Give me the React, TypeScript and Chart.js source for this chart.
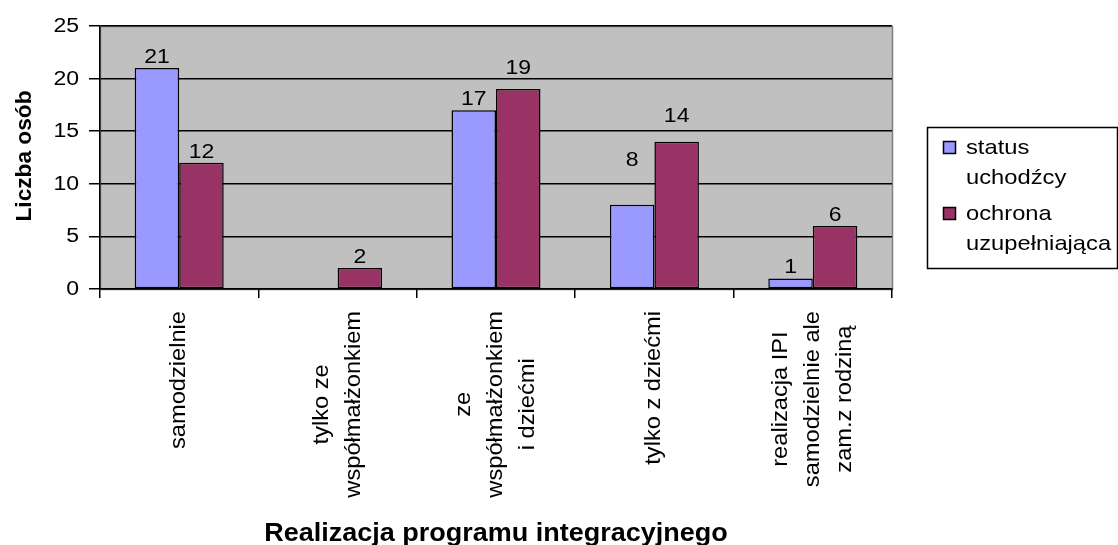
import React, { useEffect, useRef } from "react";
import { Chart, registerables } from "chart.js";

Chart.register(...registerables);

// ---- data ----
const categories: string[][] = [
  ["samodzielnie"],
  ["tylko ze", "współmałżonkiem"],
  ["ze", "współmałżonkiem", "i dziećmi"],
  ["tylko z dziećmi"],
  ["realizacja IPI", "samodzielnie ale", "zam.z rodziną"],
];
const seriesNames: string[][] = [
  ["status", "uchodźcy"],
  ["ochrona", "uzupełniająca"],
];
const statusUchodzcy: (number | null)[] = [21, null, 17, 8, 1];
const ochronaUzupelniajaca: (number | null)[] = [12, 2, 19, 14, 6];
const yTicks = [0, 5, 10, 15, 20, 25];
const yAxisTitle = "Liczba osób";
const xAxisTitle = "Realizacja programu integracyjnego";

// label nudges (extra lift above bar, px) mimicking the reference's label placement
const statusLabelLift = [0, 0, 0, 34, 0];
const ochronaLabelLift = [0, 0, 10, 15, 0];

const FAMILY = '"Liberation Sans", Arial, sans-serif';
const BLUE = "#9999FF";
const MAROON = "#993366";

function drawText(
  ctx: CanvasRenderingContext2D,
  text: string,
  x: number,
  y: number,
  font: string,
  sx: number,
  align: CanvasTextAlign,
  baseline: CanvasTextBaseline,
  rot = 0
) {
  ctx.save();
  ctx.translate(x, y);
  if (rot) ctx.rotate(rot);
  ctx.scale(sx, 1);
  ctx.font = font;
  ctx.textAlign = align;
  ctx.textBaseline = baseline;
  ctx.fillStyle = "#000";
  ctx.fillText(text, 0, 0);
  ctx.restore();
}

const bgPlugin = {
  id: "plotBg",
  beforeDraw(chart: any) {
    const { ctx, chartArea: a } = chart;
    ctx.save();
    ctx.fillStyle = "#fff";
    ctx.fillRect(0, 0, chart.width, chart.height);
    ctx.fillStyle = "#C0C0C0";
    ctx.fillRect(a.left, a.top, a.right - a.left, a.bottom - a.top);
    ctx.strokeStyle = "#808080";
    ctx.lineWidth = 1.5;
    ctx.strokeRect(Math.round(a.left) + 0.5, Math.round(a.top) + 0.5, Math.round(a.right - a.left), Math.round(a.bottom - a.top));
    ctx.restore();
  },
};

const textPlugin = {
  id: "texts",
  afterDraw(chart: any) {
    const ctx: CanvasRenderingContext2D = chart.ctx;
    const xs = chart.scales.x;
    const ys = chart.scales.y;
    const a = chart.chartArea;

    // y tick labels
    const tickFont = `20px ${FAMILY}`;
    const tickSx = 1.15;
    yTicks.forEach((v) => {
      drawText(ctx, String(v), 79, ys.getPixelForValue(v) + 0.5, tickFont, tickSx, "right", "middle");
    });

    // data labels
    const lifts = [statusLabelLift, ochronaLabelLift];
    chart.data.datasets.forEach((ds: any, di: number) => {
      const meta = chart.getDatasetMeta(di);
      meta.data.forEach((bar: any, i: number) => {
        const v = ds.data[i];
        if (v === null || v === undefined) return;
        const top = ys.getPixelForValue(v);
        drawText(ctx, String(v), bar.x, top - 5 - lifts[di][i], tickFont, tickSx, "center", "alphabetic");
      });
    });

    // category labels (rotated, lines centred, block anchored near axis)
    const catFont = `21.5px ${FAMILY}`;
    const catSx = 1.1;
    const lineGap = 32;
    const yTop = 311;
    ctx.save();
    ctx.font = catFont;
    categories.forEach((lines, i) => {
      const cx = xs.getPixelForValue(i);
      const maxLen = Math.max(...lines.map((l) => ctx.measureText(l).width * catSx));
      const cy = yTop + maxLen / 2;
      lines.forEach((line, li) => {
        const lx = cx + (li - (lines.length - 1) / 2) * lineGap;
        drawText(ctx, line, lx, cy, catFont, catSx, "center", "middle", -Math.PI / 2);
      });
    });
    ctx.restore();

    // axis titles
    drawText(ctx, yAxisTitle, 31, 156, `bold 22px ${FAMILY}`, 1.03, "center", "alphabetic", -Math.PI / 2);
    drawText(ctx, xAxisTitle, (a.left + a.right) / 2, 541, `bold 25px ${FAMILY}`, 1.08, "center", "alphabetic");

    // legend
    ctx.save();
    ctx.strokeStyle = "#000";
    ctx.lineWidth = 1.5;
    ctx.strokeRect(927.5, 127.5, 190, 141);
    const legFont = `21px ${FAMILY}`;
    const itemTops = [141, 207];
    chart.data.datasets.forEach((ds: any, di: number) => {
      const t = itemTops[di];
      ctx.fillStyle = ds.backgroundColor;
      ctx.fillRect(943, t, 12, 12);
      ctx.strokeStyle = "#000";
      ctx.lineWidth = 1.5;
      ctx.strokeRect(943.5, t + 0.5, 12, 12);
      seriesNames[di].forEach((line, li) => {
        drawText(ctx, line, 966, t + 13 + li * 30, legFont, 1.13, "left", "alphabetic");
      });
    });
    ctx.restore();
  },
};

export default function App() {
  const ref = useRef<HTMLCanvasElement | null>(null);

  useEffect(() => {
    if (!ref.current) return;
    const chart = new Chart(ref.current, {
      type: "bar",
      data: {
        labels: categories.map((c) => c.join(" ")),
        datasets: [
          {
            label: seriesNames[0].join(" "),
            data: statusUchodzcy,
            backgroundColor: BLUE,
            borderColor: "#000",
            borderWidth: 1.5,
            borderSkipped: false,
          },
          {
            label: seriesNames[1].join(" "),
            data: ochronaUzupelniajaca,
            backgroundColor: MAROON,
            borderColor: "#000",
            borderWidth: 1.5,
            borderSkipped: false,
          },
        ],
      },
      options: {
        responsive: false,
        animation: false,
        devicePixelRatio: 1,
        layout: { padding: { left: 0, top: 26, right: 226, bottom: 0 } },
        datasets: { bar: { categoryPercentage: 0.562, barPercentage: 1 } },
        plugins: { legend: { display: false }, tooltip: { enabled: false }, title: { display: false } },
        scales: {
          x: {
            type: "category",
            offset: true,
            grid: { display: true, offset: true, drawOnChartArea: false, drawTicks: true, tickLength: 9, color: "#000", lineWidth: 1.5 },
            border: { display: true, color: "#000", width: 1.5 },
            ticks: { display: false },
            afterFit: (s: any) => {
              s.height = 545 - 289;
            },
          },
          y: {
            min: 0,
            max: 25,
            ticks: { display: false, stepSize: 5 },
            grid: { display: true, drawOnChartArea: true, drawTicks: true, tickLength: 11, color: "#000", lineWidth: 1.5 },
            border: { display: true, color: "#000", width: 1.5 },
            afterFit: (s: any) => {
              s.width = 100;
            },
          },
        },
      },
      plugins: [bgPlugin, textPlugin],
    });
    return () => chart.destroy();
  }, []);

  return (
    <div style={{ position: "fixed", left: 0, top: 0, width: 1118, height: 545, background: "#fff" }}>
      <canvas ref={ref} width={1118} height={545} style={{ width: 1118, height: 545, display: "block" }} />
    </div>
  );
}
